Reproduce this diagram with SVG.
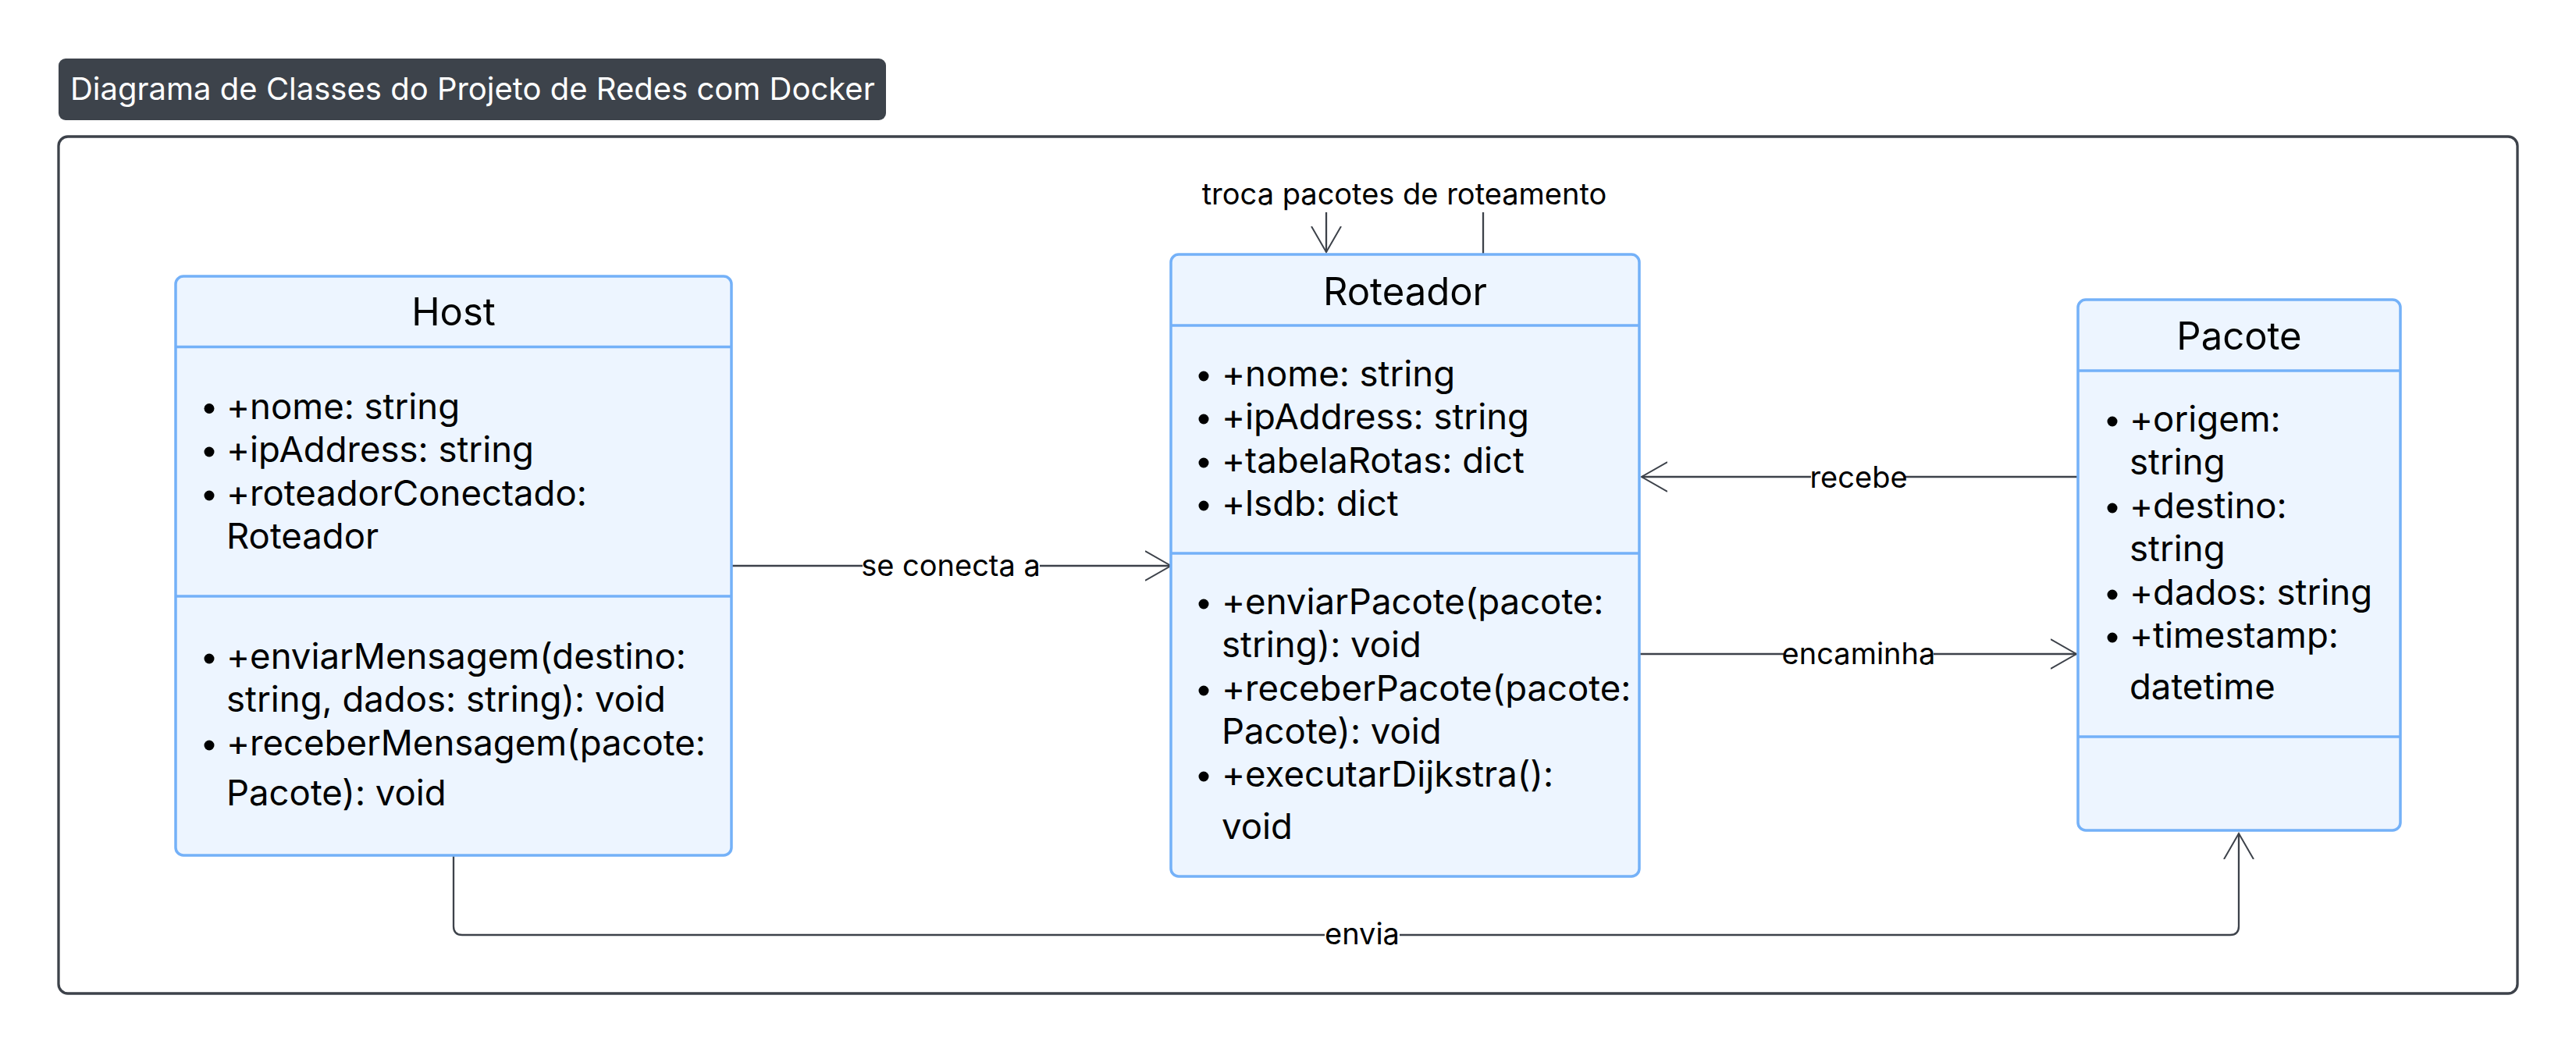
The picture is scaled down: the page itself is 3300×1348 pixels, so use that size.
<svg xmlns="http://www.w3.org/2000/svg" width="3300" height="1348" viewBox="0 0 3300 1348">
  <style>
    text { font-family: Inter, "Noto Sans", "Liberation Sans", sans-serif; fill: #000; }
    .box { fill: #edf5ff; stroke: #74b1f8; stroke-width: 3.5; }
    .sep { stroke: #74b1f8; stroke-width: 3.5; }
    .ttl { font-size: 49px; text-anchor: middle; }
    .mem { font-size: 45.5px; }
    .bul { fill: #000; }
    .edge { fill: none; stroke: #3d424a; stroke-width: 2.3; }
    .lblbg { fill: #ffffff; }
    .lbl { font-size: 38px; text-anchor: middle; }
  </style>
  <defs>
    <marker id="open" viewBox="0 0 36 40" refX="33" refY="20" markerWidth="36" markerHeight="40" markerUnits="userSpaceOnUse" orient="auto">
      <path d="M0,1 L33,20 L0,39" fill="none" stroke="#3d424a" stroke-width="2"/>
    </marker>
  </defs>
  <rect width="3300" height="1348" fill="#ffffff"/>

  <g id="diagram-title">
    <rect x="75" y="75" width="1060" height="79" rx="9" fill="#3d434b"/>
    <text x="90" y="128" style="font-size:40px;fill:#ffffff">Diagrama de Classes do Projeto de Redes com Docker</text>
  </g>

  <g id="frame">
    <rect x="75" y="175" width="3150" height="1098" rx="12" fill="none" stroke="#3d424a" stroke-width="3.3"/>
  </g>

  <g id="connectors">
    <path class="edge" d="M937,725 L1500,725" marker-end="url(#open)"/>
    <rect class="lblbg" x="1105" y="706" width="227" height="42"/>
    <text class="lbl" x="1218" y="738">se conecta a</text>

    <path class="edge" d="M2662,611 L2103,611" marker-end="url(#open)"/>
    <rect class="lblbg" x="2320" y="593" width="121" height="42"/>
    <text class="lbl" x="2381" y="625">recebe</text>

    <path class="edge" d="M2100,838 L2660,838" marker-end="url(#open)"/>
    <rect class="lblbg" x="2285" y="819" width="192" height="42"/>
    <text class="lbl" x="2381" y="851">encaminha</text>

    <path class="edge" d="M581,1096 L581,1187 Q581,1198 592,1198 L2857,1198 Q2868,1198 2868,1187 L2868,1068" marker-end="url(#open)"/>
    <rect class="lblbg" x="1697" y="1178" width="96" height="42"/>
    <text class="lbl" x="1745" y="1210">envia</text>

    <path class="edge" d="M1900,326 L1900,249 L1699,249 L1699,323" marker-end="url(#open)"/>
    <rect class="lblbg" x="1543" y="226" width="512" height="46"/>
    <text class="lbl" x="1799" y="262">troca pacotes de roteamento</text>
  </g>

  <g id="node-Host">
    <rect class="box" x="225" y="354" width="712" height="742" rx="10"/>
    <line class="sep" x1="225" y1="444.5" x2="937" y2="444.5"/>
    <line class="sep" x1="225" y1="764" x2="937" y2="764"/>
    <text class="ttl" x="581" y="417">Host</text>
    <circle class="bul" cx="268" cy="523.5" r="6.5"/>
    <circle class="bul" cx="268" cy="579" r="6.5"/>
    <circle class="bul" cx="268" cy="635" r="6.5"/>
    <circle class="bul" cx="268" cy="844" r="6.5"/>
    <circle class="bul" cx="268" cy="955" r="6.5"/>
    <text class="mem" x="290" y="536.5">+nome: string</text>
    <text class="mem" x="290" y="592">+ipAddress: string</text>
    <text class="mem" x="290" y="648">+roteadorConectado:</text>
    <text class="mem" x="290" y="703">Roteador</text>
    <text class="mem" x="290" y="857">+enviarMensagem(destino:</text>
    <text class="mem" x="290" y="912">string, dados: string): void</text>
    <text class="mem" x="290" y="968">+receberMensagem(pacote:</text>
    <text class="mem" x="290" y="1032">Pacote): void</text>
  </g>

  <g id="node-Roteador">
    <rect class="box" x="1500" y="326" width="600" height="797" rx="10"/>
    <line class="sep" x1="1500" y1="417" x2="2100" y2="417"/>
    <line class="sep" x1="1500" y1="709" x2="2100" y2="709"/>
    <text class="ttl" x="1800" y="391">Roteador</text>
    <circle class="bul" cx="1542" cy="482" r="6.5"/>
    <circle class="bul" cx="1542" cy="537" r="6.5"/>
    <circle class="bul" cx="1542" cy="593" r="6.5"/>
    <circle class="bul" cx="1542" cy="648" r="6.5"/>
    <circle class="bul" cx="1542" cy="774" r="6.5"/>
    <circle class="bul" cx="1542" cy="885" r="6.5"/>
    <circle class="bul" cx="1542" cy="995" r="6.5"/>
    <text class="mem" x="1565" y="495">+nome: string</text>
    <text class="mem" x="1565" y="550">+ipAddress: string</text>
    <text class="mem" x="1565" y="606">+tabelaRotas: dict</text>
    <text class="mem" x="1565" y="661">+lsdb: dict</text>
    <text class="mem" x="1565" y="787">+enviarPacote(pacote:</text>
    <text class="mem" x="1565" y="842">string): void</text>
    <text class="mem" x="1565" y="898">+receberPacote(pacote:</text>
    <text class="mem" x="1565" y="953">Pacote): void</text>
    <text class="mem" x="1565" y="1008">+executarDijkstra():</text>
    <text class="mem" x="1565" y="1075">void</text>
  </g>

  <g id="node-Pacote">
    <rect class="box" x="2662" y="384" width="413" height="680" rx="10"/>
    <line class="sep" x1="2662" y1="475" x2="3075" y2="475"/>
    <line class="sep" x1="2662" y1="944" x2="3075" y2="944"/>
    <text class="ttl" x="2868.5" y="448">Pacote</text>
    <circle class="bul" cx="2706" cy="540" r="6.5"/>
    <circle class="bul" cx="2706" cy="651" r="6.5"/>
    <circle class="bul" cx="2706" cy="762" r="6.5"/>
    <circle class="bul" cx="2706" cy="817" r="6.5"/>
    <text class="mem" x="2728" y="553">+origem:</text>
    <text class="mem" x="2728" y="608">string</text>
    <text class="mem" x="2728" y="664">+destino:</text>
    <text class="mem" x="2728" y="719">string</text>
    <text class="mem" x="2728" y="775">+dados: string</text>
    <text class="mem" x="2728" y="830">+timestamp:</text>
    <text class="mem" x="2728" y="896">datetime</text>
  </g>
</svg>
